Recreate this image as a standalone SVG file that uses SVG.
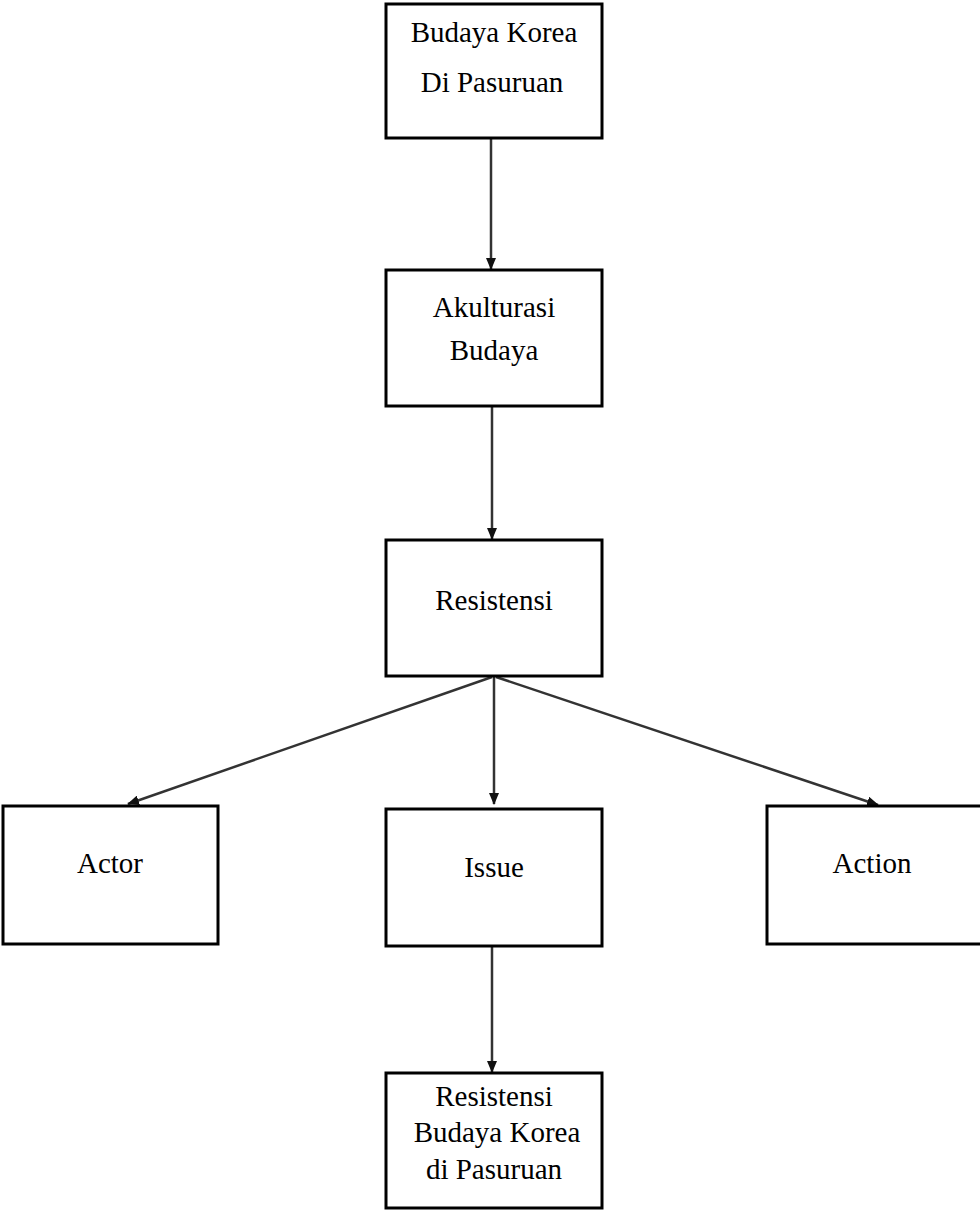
<svg xmlns="http://www.w3.org/2000/svg" width="980" height="1211" viewBox="0 0 980 1211">
<style>
.box{fill:#fff;stroke:#000;stroke-width:3}
.t{font-family:"Liberation Serif","Times New Roman",serif;font-size:29px;fill:#000;text-anchor:middle}
.c{stroke:#333;stroke-width:2.5;fill:none}
</style>
<defs>
<marker id="ah" markerWidth="12" markerHeight="10" refX="11" refY="5" orient="auto" markerUnits="userSpaceOnUse">
<path d="M0,0 L12,5 L0,10 Z" fill="#111"/>
</marker>
</defs>
<rect width="980" height="1211" fill="#fff"/>
<g id="connectors">
<line class="c" x1="491" y1="139" x2="491" y2="269" marker-end="url(#ah)"/>
<line class="c" x1="492" y1="407" x2="492" y2="539" marker-end="url(#ah)"/>
<line class="c" x1="492" y1="677" x2="128" y2="804" marker-end="url(#ah)"/>
<line class="c" x1="494" y1="677" x2="494" y2="804" marker-end="url(#ah)"/>
<line class="c" x1="496" y1="677" x2="878" y2="805" marker-end="url(#ah)"/>
<line class="c" x1="492" y1="947" x2="492" y2="1072" marker-end="url(#ah)"/>
</g>
<g id="n1"><rect class="box" x="386" y="4" width="216" height="134"/>
<text class="t" x="494" y="42">Budaya Korea</text><text class="t" x="492" y="92">Di Pasuruan</text></g>
<g id="n2"><rect class="box" x="386" y="270" width="216" height="136"/>
<text class="t" x="494" y="317">Akulturasi</text><text class="t" x="494" y="360">Budaya</text></g>
<g id="n3"><rect class="box" x="386" y="540" width="216" height="136"/>
<text class="t" x="494" y="610">Resistensi</text></g>
<g id="n4"><rect class="box" x="3" y="806" width="215" height="138"/>
<text class="t" x="110" y="873">Actor</text></g>
<g id="n5"><rect class="box" x="386" y="809" width="216" height="137"/>
<text class="t" x="494" y="877">Issue</text></g>
<g id="n6"><rect class="box" x="767" y="806" width="216" height="138"/>
<text class="t" x="872" y="873">Action</text></g>
<g id="n7"><rect class="box" x="386" y="1073" width="216" height="135"/>
<text class="t" x="494" y="1106">Resistensi</text><text class="t" x="497" y="1142">Budaya Korea</text><text class="t" x="494" y="1179">di Pasuruan</text></g>
</svg>
